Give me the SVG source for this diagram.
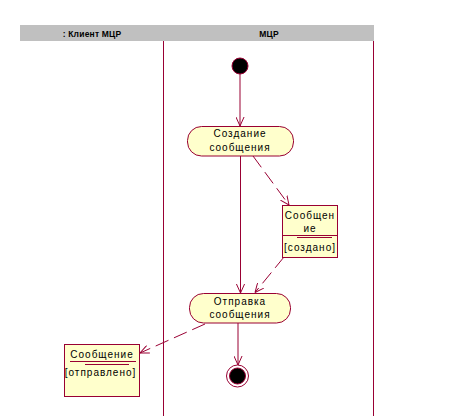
<svg xmlns="http://www.w3.org/2000/svg" width="456" height="416" viewBox="0 0 456 416">
<defs>
<marker id="arr" viewBox="0 0 10 10" refX="10" refY="5" markerWidth="9" markerHeight="9" markerUnits="userSpaceOnUse" orient="auto">
<path d="M0,0.5 L10,5 L0,9.5" fill="none" stroke="#990033" stroke-width="1.1"/>
</marker>
</defs>
<style>
.ln{stroke:#990033;stroke-width:1;fill:none}
.dash{stroke:#990033;stroke-width:1;fill:none;stroke-dasharray:14 6}
.act{fill:#ffffcc;stroke:#990033;stroke-width:1}
.t{font-family:"Liberation Sans",Arial,sans-serif;font-size:10px;fill:#000;text-anchor:middle;letter-spacing:1px}
.h{font-family:"Liberation Sans",Arial,sans-serif;font-size:8.5px;font-weight:bold;fill:#000;text-anchor:middle;letter-spacing:0.2px}
</style>
<rect x="0" y="0" width="456" height="416" fill="#ffffff"/>
<g id="lanes">
<rect x="20" y="25" width="354" height="16" fill="#c0c0c0"/>
<text class="h" x="92" y="37">: Клиент МЦР</text>
<text class="h" x="269" y="37">МЦР</text>
<line class="ln" x1="163.5" y1="41" x2="163.5" y2="416"/>
<line class="ln" x1="373.5" y1="41" x2="373.5" y2="416"/>
</g>
<g id="connectors">
<line class="ln" x1="240" y1="74" x2="240" y2="126" marker-end="url(#arr)"/>
<line class="ln" x1="240.5" y1="156" x2="240.5" y2="293" marker-end="url(#arr)"/>
<line class="dash" x1="253" y1="156" x2="289" y2="205" marker-end="url(#arr)"/>
<line class="dash" x1="284" y1="257" x2="255" y2="292.5" marker-end="url(#arr)"/>
<line class="dash" x1="205" y1="324" x2="140" y2="353" marker-end="url(#arr)"/>
<line class="ln" x1="238" y1="323" x2="238" y2="365" marker-end="url(#arr)"/>
</g>
<g id="start">
<circle cx="240" cy="66" r="8" fill="#000" stroke="#990033" stroke-width="1"/>
</g>
<g id="create">
<rect class="act" x="187.5" y="126.5" width="106" height="29.5" rx="14" ry="14"/>
<text class="t" x="240" y="137">Создание</text>
<text class="t" x="240" y="151">сообщения</text>
</g>
<g id="obj1">
<rect class="act" x="282.5" y="205.5" width="55" height="52"/>
<text class="t" x="310" y="219">Сообщен</text>
<text class="t" x="310" y="232">ие</text>
<line class="ln" x1="282.5" y1="235.5" x2="337.5" y2="235.5"/>
<line class="ln" x1="297" y1="237.5" x2="332" y2="237.5"/>
<text class="t" x="310" y="251">[создано]</text>
</g>
<g id="send">
<rect class="act" x="189.5" y="293.5" width="101" height="29.5" rx="14" ry="14"/>
<text class="t" x="240" y="305">Отправка</text>
<text class="t" x="240" y="318">сообщения</text>
</g>
<g id="obj2">
<rect class="act" x="64.5" y="344.5" width="75" height="52"/>
<text class="t" x="102" y="358">Сообщение</text>
<line class="ln" x1="70" y1="361.5" x2="136" y2="361.5"/>
<line class="ln" x1="85" y1="364.5" x2="129" y2="364.5"/>
<text class="t" x="100.5" y="376">[отправлено]</text>
</g>
<g id="end">
<circle cx="237.5" cy="376" r="11" fill="#ffffff" stroke="#990033" stroke-width="1"/>
<circle cx="237.5" cy="376" r="8" fill="#000" stroke="#990033" stroke-width="1"/>
</g>
</svg>
